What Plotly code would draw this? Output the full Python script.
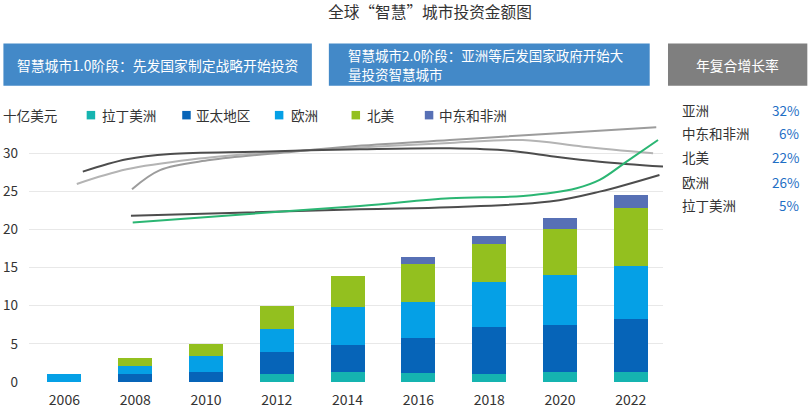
import plotly.graph_objects as go

# ---------------- data ----------------
years = [2006, 2008, 2010, 2012, 2014, 2016, 2018, 2020, 2022]
latam = [0, 0, 0, 1.0, 1.3, 1.15, 1.0, 1.3, 1.26]
apac = [0, 1.05, 1.3, 2.9, 3.52, 4.65, 6.2, 6.2, 6.98]
europe = [1.0, 1.0, 2.17, 3.1, 5.08, 4.75, 5.9, 6.6, 6.96]
namerica = [0, 1.1, 1.48, 3.0, 4.05, 4.95, 5.0, 6.0, 7.6]
mea = [0, 0, 0, 0, 0, 0.85, 1.05, 1.4, 1.7]

series_names = ["拉丁美洲", "亚太地区", "欧洲", "北美", "中东和非洲"]
series_vals = [latam, apac, europe, namerica, mea]
series_colors = ["#15b4b0", "#0664b8", "#05a0e6", "#93c01f", "#5770b5"]

# decorative trend curves (year, value)
curveA_x = [2006.52, 2007.76, 2008.99, 2011.53, 2014.35, 2016.89, 2018.58, 2019.71, 2021.12, 2022.91]
curveA_y = [27.59, 29.21, 29.91, 30.21, 30.53, 30.66, 30.34, 29.65, 28.9, 28.25]
curveB_x = [2006.35, 2007.76, 2009.64, 2011.53, 2014.07, 2016.89, 2018.95, 2020.65, 2022.63]
curveB_y = [25.98, 27.9, 29.21, 30.0, 30.7, 31.35, 31.74, 30.87, 30.0]
curveC_x = [2007.91, 2008.7, 2010.11, 2012.46, 2014.07, 2016.89, 2019.71, 2022.72]
curveC_y = [25.29, 27.8, 29.11, 30.21, 30.89, 31.74, 32.57, 33.41]
curveD_x = [2007.88, 2014.35, 2016.89, 2019.71, 2021.12, 2022.81]
curveD_y = [21.79, 22.66, 22.93, 23.66, 24.97, 27.16]
curveE_x = [2007.93, 2014.35, 2016.89, 2018.96, 2020.47, 2021.12, 2021.88, 2022.77]
curveE_y = [20.93, 23.1, 24.1, 24.41, 25.42, 26.5, 28.9, 31.74]

cagr_labels = ["亚洲", "中东和非洲", "北美", "欧洲", "拉丁美洲"]
cagr_values = ["32%", "6%", "22%", "26%", "5%"]

title_text = "全球“智慧”城市投资金额图"
phase1_text = "智慧城市1.0阶段：先发国家制定战略开始投资"
phase2_line1 = "智慧城市2.0阶段：亚洲等后发国家政府开始大"
phase2_line2 = "量投资智慧城市"
cagr_title = "年复合增长率"
unit_text = "十亿美元"

# ---------------- layout geometry ----------------
W, H = 810, 417
L, R, T, B = 29, 146.7, 126, 34.7
pw, ph = W - L - R, H - T - B


def px(x):
    return (x - L) / pw


def py(y):
    return (H - B - y) / ph


FONT = "Noto Sans CJK SC"
TXT = "#333333"

fig = go.Figure()
for name, vals, col in zip(series_names, series_vals, series_colors):
    fig.add_trace(go.Bar(x=years, y=vals, name=name, marker=dict(color=col, line=dict(width=0)),
                         width=0.96, showlegend=False))

curve_specs = [
    (curveB_x, curveB_y, "#b4b4b4"),
    (curveC_x, curveC_y, "#9c9c9c"),
    (curveA_x, curveA_y, "#4d4d4d"),
    (curveD_x, curveD_y, "#4d4d4d"),
    (curveE_x, curveE_y, "#2bb673"),
]
for cx, cy, col in curve_specs:
    fig.add_trace(go.Scatter(x=cx, y=cy, mode="lines", line=dict(color=col, width=2, shape="spline", smoothing=1.0),
                             hoverinfo="skip", showlegend=False, cliponaxis=False))

shapes = []
annotations = []


def note(x, y, text, size, color, xanchor="left"):
    annotations.append(dict(x=px(x), y=py(y), xref="paper", yref="paper", text=text, showarrow=False,
                            font=dict(size=size, color=color, family=FONT), xanchor=xanchor,
                            yanchor="middle", borderpad=0))


# title
note(430, 11, title_text, 15.7, TXT, "center")

# phase boxes
for x0, x1, col in [(3.4, 312, "#4389c8"), (329, 650, "#4389c8"), (668.3, 807.7, "#7f7f7f")]:
    shapes.append(dict(type="rect", xref="paper", yref="paper", x0=px(x0), x1=px(x1), y0=py(85.7), y1=py(43.3),
                       fillcolor=col, line=dict(width=0), layer="above"))
note(157.7, 64.5, phase1_text, 13.8, "white", "center")
note(347.5, 54.6, phase2_line1, 13.5, "white")
note(347.5, 73.6, phase2_line2, 13.5, "white")
note(738, 64.5, cagr_title, 13.8, "white", "center")

# legend row
note(1.5, 115, unit_text, 13.6, TXT)
sq_x = [86.7, 182.3, 275, 351.7, 425]
tx_x = [101.2, 195.2, 290.2, 365.8, 437.8]
for sx, tx, name, col in zip(sq_x, tx_x, series_names, series_colors):
    shapes.append(dict(type="rect", xref="paper", yref="paper", x0=px(sx), x1=px(sx + 8.5), y0=py(119.4), y1=py(110.9),
                       fillcolor=col, line=dict(width=0)))
    note(tx, 115, name, 13.6, TXT)

# CAGR panel
row_y = [110, 133.3, 157.3, 181.7, 205]
for ry, lab, val in zip(row_y, cagr_labels, cagr_values):
    note(681, ry, lab, 13.5, TXT)
    note(800, ry, val, 13.5, "#1f6fc5", "right")

fig.update_layout(
    width=W, height=H, margin=dict(l=L, r=R, t=T, b=B, pad=0, autoexpand=False),
    barmode="stack", bargap=0,
    paper_bgcolor="white", plot_bgcolor="white",
    font=dict(family=FONT, color=TXT),
    shapes=shapes, annotations=annotations,
    xaxis=dict(range=[2005.0, 2022.91], tickmode="array", tickvals=years, ticktext=[str(y) for y in years],
               showgrid=False, zeroline=False, showline=False, ticks="", tickfont=dict(size=14, color=TXT),
               ticklabelstandoff=8, fixedrange=True, automargin=False),
    yaxis=dict(range=[0, ph / 7.633], tickmode="array", tickvals=[0, 5, 10, 15, 20, 25, 30],
               showgrid=True, gridcolor="#e8e8e8", gridwidth=1, zeroline=False, showline=False, ticks="",
               tickfont=dict(size=13.5, color=TXT), ticklabelstandoff=10, fixedrange=True, automargin=False),
    showlegend=False,
)

fig.write_html("out.html")
